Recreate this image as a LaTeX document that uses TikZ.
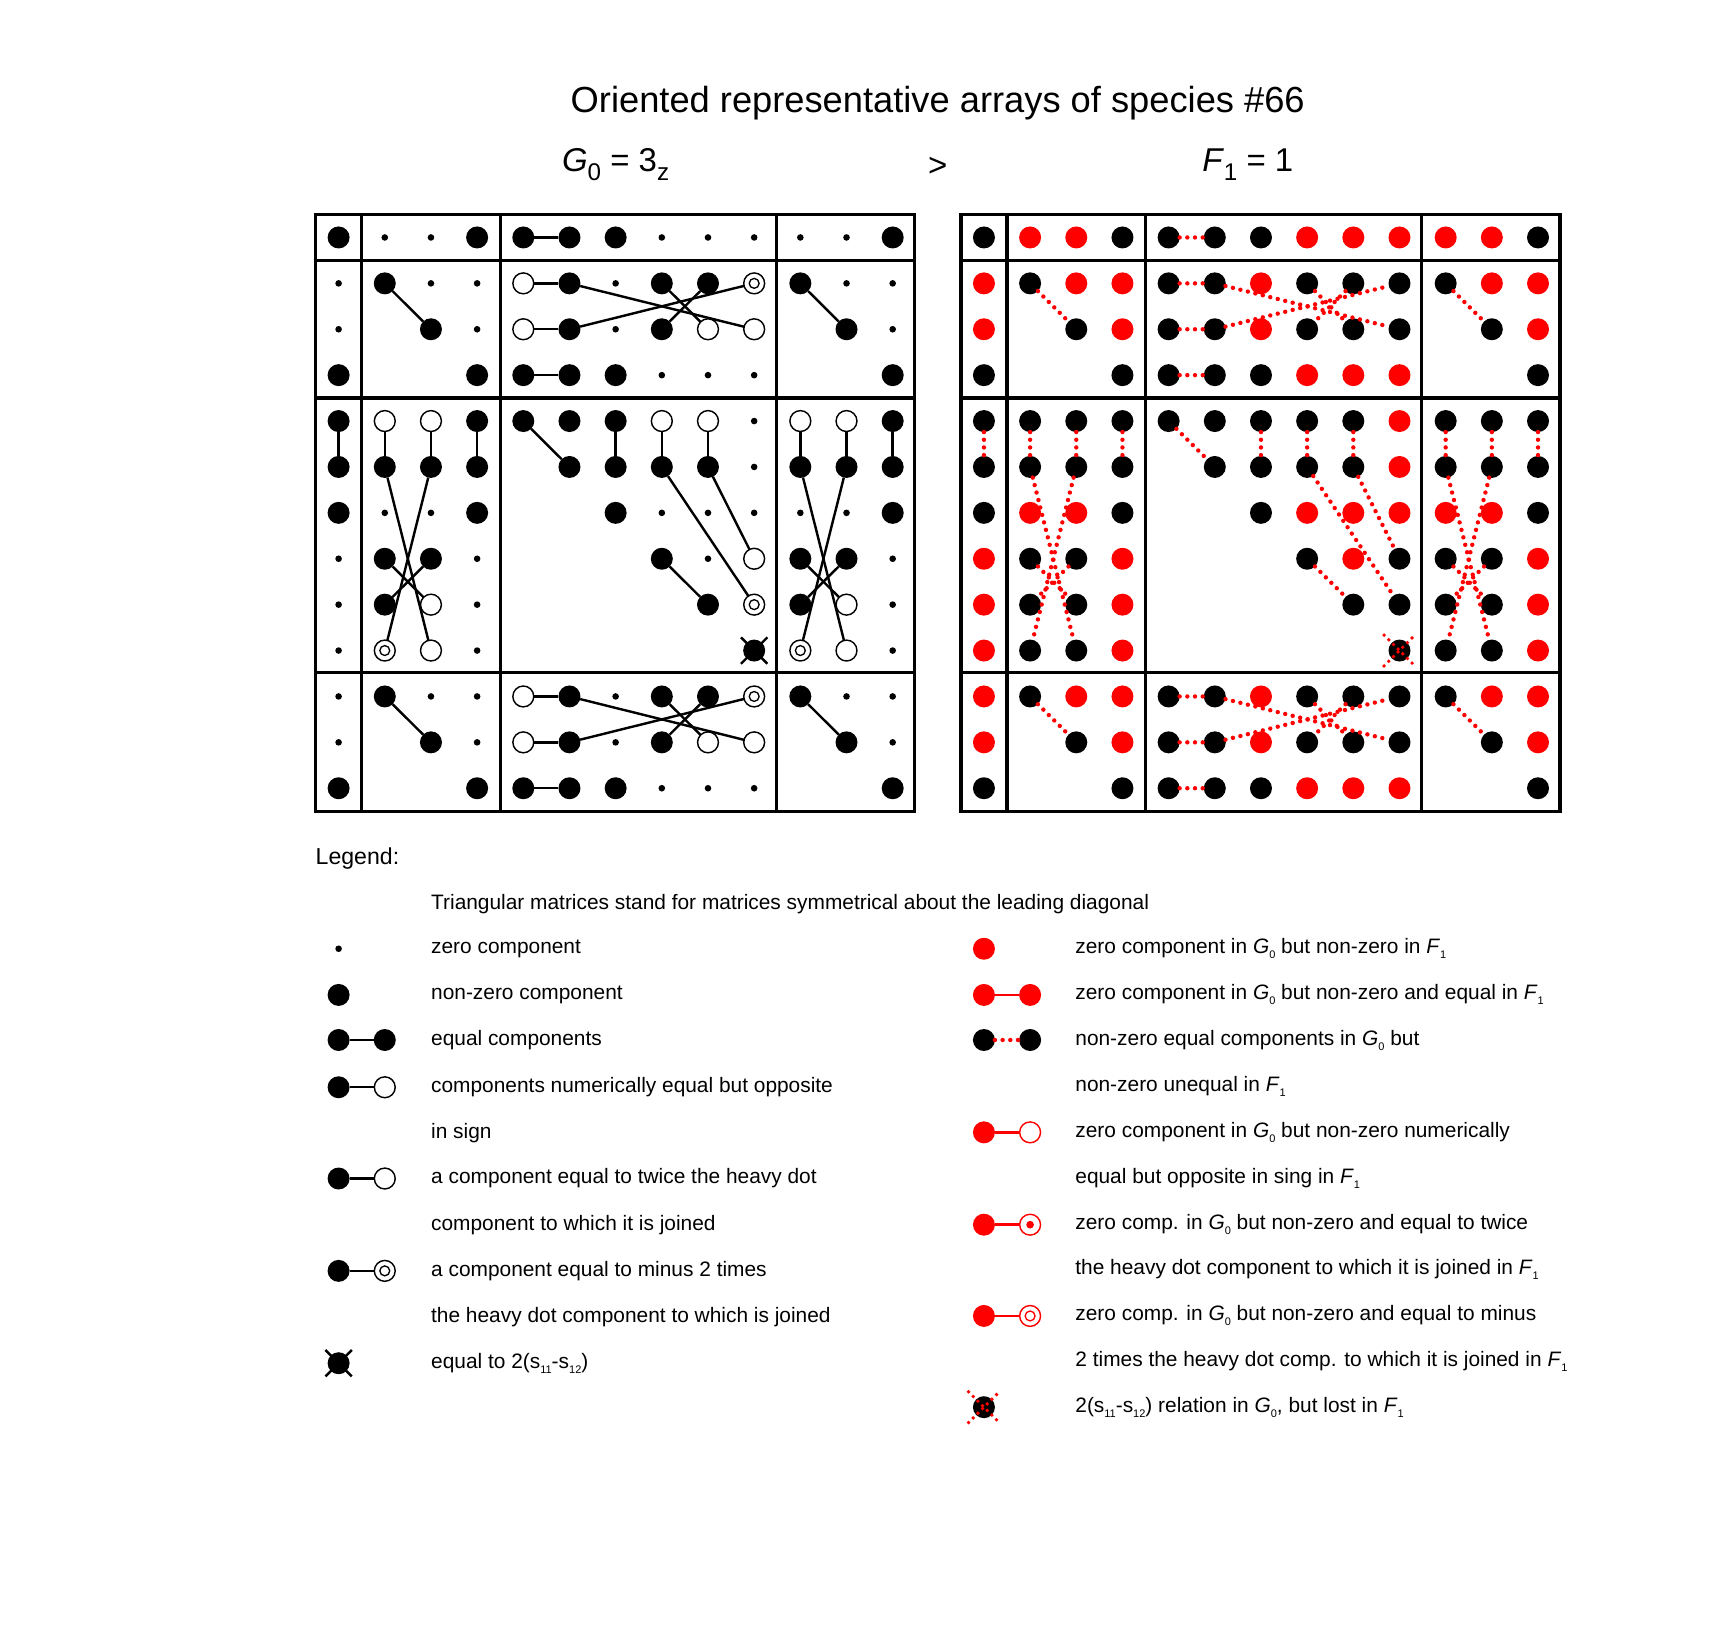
\documentclass[tikz,border=0pt]{standalone}
\usepackage{fontspec}
\setmainfont{Liberation Sans}
\newcommand\dn[1]{\raisebox{-0.45ex}{\normalsize #1}}
\begin{document}
\begin{tikzpicture}[x=1pt,y=-1pt,
  base/.style={circle,inner sep=0pt,outer sep=0pt},
  dB/.style={base,fill=black,minimum size=20},
  ds/.style={base,fill=black,minimum size=6},
  dn/.style={base,minimum size=2},
  dO/.style={base,draw,fill=white,line width=1.3pt,minimum size=19},
  dT/.style={dO,path picture={\fill (path picture bounding box.center) circle (3.5);}},
  dM/.style={dO,path picture={\draw[line width=1.2pt] (path picture bounding box.center) circle (4.5);}},
  dX/.style={dB},
  rK/.style={dB},
  rR/.style={base,fill=red,minimum size=20},
  rn/.style={dn},
  rX/.style={dB},
  rO/.style={base,draw=red,fill=white,line width=1.3pt,minimum size=19},
  rT/.style={rO,path picture={\fill[red] (path picture bounding box.center) circle (3.5);}},
  rM/.style={rO,path picture={\draw[red,line width=1.2pt] (path picture bounding box.center) circle (4.5);}},
  conL/.style={line width=2.2pt},
  conR/.style={red,line width=4pt,line cap=round,dash pattern=on 0pt off 7pt},
  conRs/.style={red,line width=2.5pt},
  grid/.style={line width=3pt},
  txt/.style={anchor=west,inner sep=0pt,font=\fontsize{19}{22}\selectfont},
]
\useasboundingbox (0,0) rectangle (1560,1479);
\node[font=\fontsize{33}{38}\selectfont] (title) at (853,94) {Oriented representative arrays of species \#66};
\node[font=\fontsize{30}{34}\selectfont] (g0) at (560,150) {\textit{G}\raisebox{-0.5ex}{\fontsize{22}{24}\selectfont 0} = 3\raisebox{-0.5ex}{\fontsize{22}{24}\selectfont z}};
\node[font=\fontsize{30}{34}\selectfont] (gt) at (853,152) {>};
\node[font=\fontsize{30}{34}\selectfont] (f1) at (1135,150) {\textit{F}\raisebox{-0.5ex}{\fontsize{22}{24}\selectfont 1} = 1};
% grids
\foreach \ox in {0,587}{
  \draw[grid] (287+\ox,195) rectangle (832+\ox,738);
  \foreach \xx in {329,455,706} \draw[grid] (\xx+\ox,195) -- (\xx+\ox,738);
  \foreach \yy in {237,362,612} \draw[grid] (287+\ox,\yy) -- (832+\ox,\yy);
}
% left matrix dots
\foreach \row [count=\r] in {
 {B,s,s,B,B,B,B,s,s,s,s,s,B},
 {s,B,s,s,O,B,s,B,B,M,B,s,s},
 {s,n,B,s,O,B,s,B,O,T,n,B,s},
 {B,n,n,B,B,B,B,s,s,s,n,n,B},
 {B,O,O,B,B,B,B,O,O,s,O,O,B},
 {B,B,B,B,n,B,B,B,B,s,B,B,B},
 {B,s,s,B,n,n,B,s,s,s,s,s,B},
 {s,B,B,s,n,n,n,B,s,T,B,B,s},
 {s,B,O,s,n,n,n,n,B,M,B,O,s},
 {s,M,T,s,n,n,n,n,n,X,M,T,s},
 {s,B,s,s,O,B,s,B,B,M,B,s,s},
 {s,n,B,s,O,B,s,B,O,T,n,B,s},
 {B,n,n,B,B,B,B,s,s,s,n,n,B}}{
  \foreach \t [count=\c] in \row {
    \node[d\t] (L-\c-\r) at ({308+42*(\c-1)},{216+41.75*(\r-1)}) {};
  }
}
\foreach \row [count=\r] in {
 {K,R,R,K,K,K,K,R,R,R,R,R,K},
 {R,K,R,R,K,K,R,K,K,K,K,R,R},
 {R,n,K,R,K,K,R,K,K,K,n,K,R},
 {K,n,n,K,K,K,K,R,R,R,n,n,K},
 {K,K,K,K,K,K,K,K,K,R,K,K,K},
 {K,K,K,K,n,K,K,K,K,R,K,K,K},
 {K,R,R,K,n,n,K,R,R,R,R,R,K},
 {R,K,K,R,n,n,n,K,R,K,K,K,R},
 {R,K,K,R,n,n,n,n,K,K,K,K,R},
 {R,K,K,R,n,n,n,n,n,X,K,K,R},
 {R,K,R,R,K,K,R,K,K,K,K,R,R},
 {R,n,K,R,K,K,R,K,K,K,n,K,R},
 {K,n,n,K,K,K,K,R,R,R,n,n,K}}{
  \foreach \t [count=\c] in \row {
    \node[r\t] (R-\c-\r) at ({895+42*(\c-1)},{216+41.75*(\r-1)}) {};
  }
}
% connectors
\foreach \a/\b/\c/\d in {5/1/6/1, 2/2/3/3, 5/2/6/2, 5/3/6/3, 6/2/10/3, 6/3/10/2, 8/2/9/3, 9/2/8/3, 5/4/6/4, 11/2/12/3,
  1/5/1/6, 2/5/2/6, 3/5/3/6, 4/5/4/6, 2/6/3/10, 3/6/2/10, 2/8/3/9, 3/8/2/9,
  11/5/11/6, 12/5/12/6, 13/5/13/6, 11/6/12/10, 12/6/11/10, 11/8/12/9, 12/8/11/9,
  5/5/6/6, 7/5/7/6, 8/5/8/6, 9/5/9/6, 8/6/10/9, 9/6/10/8, 8/8/9/9,
  2/11/3/12, 5/11/6/11, 5/12/6/12, 6/11/10/12, 6/12/10/11, 8/11/9/12, 9/11/8/12, 5/13/6/13, 11/11/12/12}{
  \draw[conL] (L-\a-\b) -- (L-\c-\d);
  \draw[conR] (R-\a-\b) -- (R-\c-\d);
}
% X marks
\draw[line width=2.2pt] (L-10-10.center) +(-12,-12) -- +(12,12) (L-10-10.center) +(-12,12) -- +(12,-12);
\draw[conR,line width=3.5pt,dash pattern=on 0pt off 6pt] (R-10-10.center) +(-14,-14) -- +(14,14) (R-10-10.center) +(-14,14) -- +(14,-14);
% legend
\node[txt,font=\fontsize{21}{24}\selectfont] (leg) at (287,781) {Legend:};
\node[txt] (tri) at (392,822) {Triangular matrices stand for matrices symmetrical about the leading diagonal};
% left legend
\node[ds] (a1) at (308,863) {};
\node[txt] at (392,863) {zero component};
\node[dB] (a2) at (308,905) {};
\node[txt] at (392,905) {non-zero component};
\node[dB] (a3) at (308,946) {}; \node[dB] (a3b) at (350,946) {}; \draw[conL] (a3) -- (a3b);
\node[txt] at (392,946) {equal components};
\node[dB] (a4) at (308,989) {}; \node[dO] (a4b) at (350,989) {}; \draw[conL] (a4) -- (a4b);
\node[txt] at (392,989) {components numerically equal but opposite};
\node[txt] at (392,1031) {in sign};
\node[dB] (a5) at (308,1072) {}; \node[dT] (a5b) at (350,1072) {}; \draw[conL] (a5) -- (a5b);
\node[txt] at (392,1072) {a component equal to twice the heavy dot};
\node[txt] at (392,1114) {component to which it is joined};
\node[dB] (a6) at (308,1156) {}; \node[dM] (a6b) at (350,1156) {}; \draw[conL] (a6) -- (a6b);
\node[txt] at (392,1156) {a component equal to minus 2 times};
\node[txt] at (392,1198) {the heavy dot component to which is joined};
\node[dB] (a7) at (308,1240) {};
\draw[line width=2.2pt] (a7.center) +(-12,-12) -- +(12,12) (a7.center) +(-12,12) -- +(12,-12);
\node[txt] at (392,1240) {equal to 2(s\dn{11}-s\dn{12})};
% right legend
\node[rR] (b1) at (895,863) {};
\node[txt] at (978,863) {zero component in \textit{G}\dn{0} but non-zero in \textit{F}\dn{1}};
\node[rR] (b2) at (895,905) {}; \node[rR] (b2b) at (937,905) {}; \draw[conRs] (b2) -- (b2b);
\node[txt] at (978,905) {zero component in \textit{G}\dn{0} but non-zero and equal in \textit{F}\dn{1}};
\node[dB] (b3) at (895,946) {}; \node[dB] (b3b) at (937,946) {}; \draw[conR] (b3) -- (b3b);
\node[txt] at (978,946) {non-zero equal components in \textit{G}\dn{0} but};
\node[txt] at (978,988) {non-zero unequal in \textit{F}\dn{1}};
\node[rR] (b4) at (895,1030) {}; \node[rO] (b4b) at (937,1030) {}; \draw[conRs] (b4) -- (b4b);
\node[txt] at (978,1030) {zero component in \textit{G}\dn{0} but non-zero numerically};
\node[txt] at (978,1072) {equal but opposite in sing in \textit{F}\dn{1}};
\node[rR] (b5) at (895,1114) {}; \node[rT] (b5b) at (937,1114) {}; \draw[conRs] (b5) -- (b5b);
\node[txt] at (978,1114) {zero comp. in \textit{G}\dn{0} but non-zero and equal to twice};
\node[txt] at (978,1155) {the heavy dot component to which it is joined in \textit{F}\dn{1}};
\node[rR] (b6) at (895,1197) {}; \node[rM] (b6b) at (937,1197) {}; \draw[conRs] (b6) -- (b6b);
\node[txt] at (978,1197) {zero comp. in \textit{G}\dn{0} but non-zero and equal to minus};
\node[txt] at (978,1238) {2 times the heavy dot comp. to which it is joined in \textit{F}\dn{1}};
\node[dB] (b7) at (895,1280) {};
\draw[conR,line width=3.5pt,dash pattern=on 0pt off 6pt] (b7.center) +(-14,-14) -- +(14,14) (b7.center) +(-14,14) -- +(14,-14);
\node[txt] at (978,1280) {2(s\dn{11}-s\dn{12}) relation in \textit{G}\dn{0}, but lost in \textit{F}\dn{1}};
\end{tikzpicture}
\end{document}
